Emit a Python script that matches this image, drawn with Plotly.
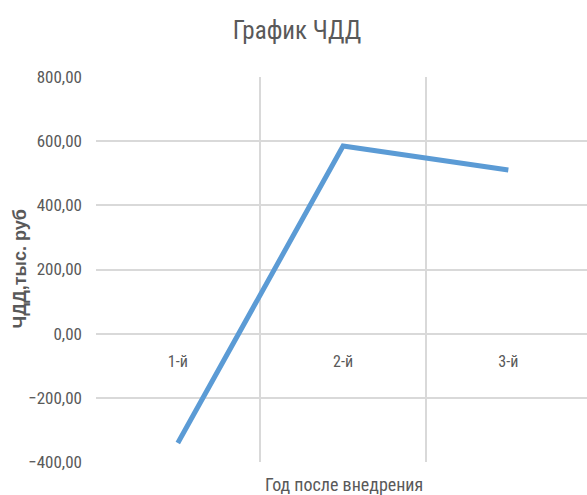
import plotly.graph_objects as go

# Net present value by year after implementation (thousand rubles)
years = ["1-й", "2-й", "3-й"]
npv = [-341.0, 585.0, 510.0]
y_ticks = [-400, -200, 0, 200, 400, 600, 800]

NARROW = "Liberation Sans Narrow, Roboto Condensed, Arial Narrow, Liberation Sans, sans-serif"
GREY_TEXT = "#595959"
GRID = "#D9D9D9"

W, H = 587, 495
M_L, M_R, M_T, M_B = 96, 0, 77, 33

fig = go.Figure()
fig.add_trace(go.Scatter(
    x=years,
    y=npv,
    mode="lines",
    line=dict(color="#5B9BD5", width=5),
    showlegend=False,
    hoverinfo="x+y",
))

y_min, y_max = y_ticks[0], y_ticks[-1]

fig.update_layout(
    width=W,
    height=H,
    margin=dict(l=M_L, r=M_R, t=M_T, b=M_B, pad=0),
    paper_bgcolor="white",
    plot_bgcolor="white",
    separators=", ",
    font=dict(family=NARROW, color=GREY_TEXT),
    title=dict(
        text="График ЧДД",
        font=dict(family=NARROW, size=25, color=GREY_TEXT),
        x=297 / W,
        xanchor="center",
        y=1 - 30 / H,
        yanchor="middle",
    ),
    xaxis=dict(
        type="category",
        tickson="boundaries",
        range=[-0.495, 2.476],
        showgrid=True,
        gridcolor=GRID,
        gridwidth=1.5,
        showline=False,
        zeroline=False,
        ticks="",
        ticklabelstandoff=16,
        tickfont=dict(family=NARROW, size=16, color=GREY_TEXT),
        anchor="free",
        position=(0 - y_min) / (y_max - y_min),
    ),
    yaxis=dict(
        range=[y_min, y_max],
        tickvals=y_ticks,
        tickformat=".2f",
        showgrid=True,
        gridcolor=GRID,
        gridwidth=1.5,
        zeroline=False,
        showline=False,
        ticks="",
        ticklabelstandoff=13,
        tickfont=dict(family=NARROW, size=17, color=GREY_TEXT),
    ),
    annotations=[
        dict(
            text="Год после внедрения",
            xref="paper", yref="paper",
            x=(343.5 - M_L) / (W - M_L - M_R),
            y=-22 / (H - M_T - M_B),
            xanchor="center", yanchor="middle",
            showarrow=False,
            font=dict(family=NARROW, size=18, color=GREY_TEXT),
        ),
        dict(
            text="<b>ЧДД,тыс. руб</b>",
            xref="paper", yref="paper",
            x=(19 - M_L) / (W - M_L - M_R),
            y=0.5,
            xanchor="center", yanchor="middle",
            textangle=-90,
            showarrow=False,
            font=dict(family="Liberation Sans, Arial, sans-serif", size=18, color=GREY_TEXT),
        ),
    ],
)

fig.write_html("out.html", config={"displayModeBar": False})
